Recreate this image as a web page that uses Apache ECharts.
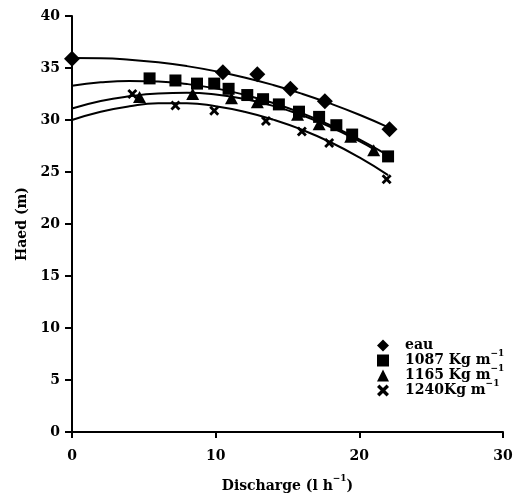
<!DOCTYPE html>
<html>
<head>
<meta charset="utf-8">
<script src="https://cdn.jsdelivr.net/npm/echarts@6/dist/echarts.min.js"></script>
<style>
  html, body { margin: 0; padding: 0; background: #fff; }
  #chart { width: 515px; height: 495px; }
</style>
</head>
<body>
<div id="chart"></div>
<script>
// Measured pump head versus discharge for water and three slurry densities
const seriesNames = ['eau', '1087 Kg m{sup|−1}', '1165 Kg m{sup|−1}', '1240Kg m{sup|−1}'];

const eauPoints = [[0, 35.9], [10.5, 34.6], [12.9, 34.4], [15.2, 33.0], [17.6, 31.8], [22.1, 29.1]];
const d1087Points = [[5.4, 34.0], [7.2, 33.8], [8.7, 33.5], [9.9, 33.5], [10.9, 33.0], [12.2, 32.4],
  [13.3, 32.0], [14.4, 31.5], [15.8, 30.8], [17.2, 30.3], [18.4, 29.5], [19.5, 28.6], [22.0, 26.5]];
const d1165Points = [[4.7, 32.2], [8.4, 32.5], [11.1, 32.1], [12.9, 31.7], [15.7, 30.5], [17.2, 29.6],
  [19.4, 28.4], [21.0, 27.1]];
const d1240Points = [[4.2, 32.5], [7.2, 31.4], [9.9, 30.9], [13.5, 29.9], [16.0, 28.9], [17.9, 27.8], [21.9, 24.3]];

// Fitted trend curves, sampled along the discharge axis
const eauCurve = [[0, 35.95], [2, 35.93], [4, 35.80], [6, 35.55], [8, 35.18], [10, 34.69], [12, 34.09],
  [14, 33.37], [16, 32.53], [18, 31.57], [20, 30.50], [22.1, 29.25]];
const d1087Curve = [[0, 33.3], [2, 33.62], [4, 33.75], [6, 33.70], [8, 33.46], [10, 33.04], [12, 32.43],
  [14, 31.64], [16, 30.66], [18, 29.49], [20, 28.14], [22.0, 26.6]];
const d1165Curve = [[0, 31.1], [2, 31.82], [4, 32.28], [6, 32.55], [8, 32.62], [10, 32.45], [12, 32.02],
  [14, 31.36], [16, 30.46], [18, 29.33], [20, 27.96], [21.0, 27.2]];
const d1240Curve = [[0, 30.0], [2, 30.8], [4, 31.32], [6, 31.6], [8, 31.62], [10, 31.33], [12, 30.8],
  [14, 30.04], [16, 29.07], [18, 27.86], [20, 26.4], [22.0, 24.7]];

const xTicks = [0, 10, 20, 30];
const yTicks = [0, 5, 10, 15, 20, 25, 30, 35, 40];

const FONT = 'DejaVu Serif';
// raised "−1" exponent: a 1px-high token pinned to the top of the line
function supStyle(lineHeight) {
  return {
    fontFamily: FONT, fontWeight: 'bold', fontSize: 9, color: '#000',
    lineHeight: lineHeight, height: 1, verticalAlign: 'top'
  };
}

const crossPath = 'path://M2,0 L5,3 L8,0 L10,2 L7,5 L10,8 L8,10 L5,7 L2,10 L0,8 L3,5 L0,2 Z';

const scatterDefs = [
  { name: seriesNames[0], data: eauPoints, symbol: 'diamond', size: [16, 16] },
  { name: seriesNames[2], data: d1165Points, symbol: 'triangle', size: [13, 12] },
  { name: seriesNames[1], data: d1087Points, symbol: 'rect', size: [12, 12] },
  { name: seriesNames[3], data: d1240Points, symbol: crossPath, size: [10, 10] }
];
const curveDefs = [eauCurve, d1087Curve, d1165Curve, d1240Curve];

const series = [];
curveDefs.forEach((c, i) => {
  series.push({
    name: 'fit' + i,
    type: 'line',
    data: c,
    smooth: true,
    showSymbol: false,
    silent: true,
    lineStyle: { color: '#000', width: 2 },
    z: 1
  });
});
scatterDefs.forEach(s => {
  series.push({
    name: s.name,
    type: 'scatter',
    data: s.data,
    symbol: s.symbol,
    symbolSize: s.size,
    itemStyle: { color: '#000', opacity: 1 },
    z: 3
  });
});

const legendIcons = {
  [seriesNames[0]]: 'diamond',
  [seriesNames[1]]: 'rect',
  [seriesNames[2]]: 'triangle',
  [seriesNames[3]]: crossPath
};

const chart = echarts.init(document.getElementById('chart'), null, { renderer: 'canvas' });
chart.setOption({
  backgroundColor: '#fff',
  animation: false,
  grid: { left: 72, right: 12, top: 16, bottom: 63, containLabel: false, outerBoundsMode: 'none' },
  legend: {
    data: seriesNames.map(n => ({ name: n, icon: legendIcons[n] })),
    orient: 'vertical',
    left: 372,
    top: 333,
    itemWidth: 12,
    itemHeight: 12,
    itemGap: -4,
    textStyle: {
      fontFamily: FONT, fontWeight: 'bold', fontSize: 14, color: '#000', lineHeight: 15,
      padding: [0, 0, 0, 11],
      rich: { sup: supStyle(15) }
    },
    formatter: n => n
  },
  xAxis: {
    type: 'value',
    min: 0, max: 30, interval: 10,
    name: 'Discharge (l h{sup|−1})',
    nameLocation: 'middle',
    nameGap: 46,
    nameTextStyle: {
      fontFamily: FONT, fontWeight: 'bold', fontSize: 14, color: '#000', lineHeight: 16,
      rich: { sup: supStyle(16) }
    },
    axisLine: { onZero: false, lineStyle: { color: '#000', width: 2 } },
    axisTick: { show: true, length: 6, lineStyle: { color: '#000', width: 2 } },
    axisLabel: {
      fontFamily: FONT, fontWeight: 'bold', fontSize: 14, color: '#000', margin: 17,
      formatter: v => (xTicks.indexOf(v) >= 0 ? String(v) : '')
    },
    splitLine: { show: false }
  },
  yAxis: {
    type: 'value',
    min: 0, max: 40, interval: 5,
    name: 'Haed (m)',
    nameLocation: 'middle',
    nameGap: 43,
    nameTextStyle: { fontFamily: FONT, fontWeight: 'bold', fontSize: 14, color: '#000' },
    axisLine: { show: true, onZero: false, lineStyle: { color: '#000', width: 2 } },
    axisTick: { show: true, length: 7, lineStyle: { color: '#000', width: 2 } },
    axisLabel: {
      fontFamily: FONT, fontWeight: 'bold', fontSize: 14, color: '#000', margin: 12,
      formatter: v => (yTicks.indexOf(v) >= 0 ? String(v) : '')
    },
    splitLine: { show: false }
  },
  series: series
});
</script>
</body>
</html>
